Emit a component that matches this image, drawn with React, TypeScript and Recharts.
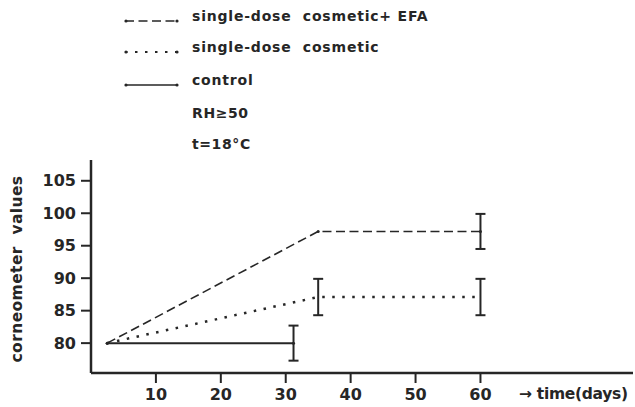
import { LineChart, Line, XAxis, YAxis, ErrorBar, Legend } from 'recharts';

// days after start, corneometer readings, +/- error (null = no bar drawn)
const efaDays = [2.5, 35, 60];
const efaValues = [80, 97.2, 97.2];
const efaErrors = [null, null, 2.7];

const cosmeticDays = [2.5, 35, 60];
const cosmeticValues = [80, 87.1, 87.1];
const cosmeticErrors = [null, 2.8, 2.8];

const controlDays = [2.5, 31.2];
const controlValues = [80, 80];
const controlErrors = [null, 2.7];

const seriesNames = ['single-dose  cosmetic+ EFA', 'single-dose  cosmetic', 'control'];
const conditions = ['RH\u226550', 't=18\u00B0C'];

const xTicks = [10, 20, 30, 40, 50, 60];
const yTicks = [80, 85, 90, 95, 100, 105];

const ink = '#262626';
const font = "'DejaVu Sans', sans-serif";

const toRows = (days: number[], values: number[], errors: (number | null)[]) =>
  days.map((d, i) => ({ day: d, value: values[i], err: errors[i] }));

const efaData = toRows(efaDays, efaValues, efaErrors);
const cosmeticData = toRows(cosmeticDays, cosmeticValues, cosmeticErrors);
const controlData = toRows(controlDays, controlValues, controlErrors);

const dashes = ['9 4.5', '2.5 7.5', undefined];
const widths = [1.6, 2.5, 2];

function LegendBox() {
  const rowY = [21, 52, 85];
  return (
    <svg width={460} height={160} style={{ display: 'block' }}>
      {seriesNames.map((name, i) => (
        <g key={name}>
          <line x1={125} x2={178} y1={rowY[i]} y2={rowY[i]} stroke={ink} strokeWidth={widths[i] > 2 ? 2 : 1.6} strokeDasharray={dashes[i]} />
          <circle cx={126} cy={rowY[i]} r={1.6} fill={ink} />
          <circle cx={177} cy={rowY[i]} r={1.6} fill={ink} />
          <text x={192} y={rowY[i]} fontFamily={font} fontSize={14} fontWeight="bold" letterSpacing={0.8} fill={ink} style={{ whiteSpace: 'pre' }}>
            {name}
          </text>
        </g>
      ))}
      {conditions.map((c, i) => (
        <text key={c} x={192} y={118 + i * 31} fontFamily={font} fontSize={14} fontWeight="bold" letterSpacing={0.6} fill={ink}>
          {c}
        </text>
      ))}
    </svg>
  );
}

export default function App() {
  return (
    <div style={{ width: 635, height: 407, background: '#fff' }}>
      <style>{'body{margin:0}'}</style>
      <LineChart width={635} height={407} margin={{ top: 160, right: 2, bottom: 4, left: 31 }}>
        <XAxis
          dataKey="day"
          type="number"
          domain={[0, 83.5]}
          allowDataOverflow
          ticks={xTicks}
          height={30}
          tickSize={10}
          tickMargin={6}
          tick={{ fill: ink, fontSize: 16, fontFamily: font, fontWeight: 'bold' }}
          tickLine={{ stroke: ink, strokeWidth: 2 }}
          axisLine={{ stroke: ink, strokeWidth: 2.5 }}
          label={{
            content: () => (
              <text x={519} y={399} fontFamily={font} fontSize={15.5} fontWeight="bold" fill={ink} letterSpacing={-0.3}>
                {'\u2192 time(days)'}
              </text>
            ),
          }}
        />
        <YAxis
          type="number"
          domain={[75.4, 108.2]}
          allowDataOverflow
          ticks={yTicks}
          width={60}
          tickSize={10}
          tickMargin={5}
          tick={{ fill: ink, fontSize: 16, fontFamily: font, fontWeight: 'bold' }}
          tickLine={{ stroke: ink, strokeWidth: 2 }}
          axisLine={{ stroke: ink, strokeWidth: 2.5 }}
          label={{
            content: () => (
              <text
                x={17}
                y={269}
                transform="rotate(-90 17 269)"
                textAnchor="middle"
                dominantBaseline="central"
                fontFamily={font}
                fontSize={15.5}
                fontWeight="bold"
                letterSpacing={0.4}
                fill={ink}
                style={{ whiteSpace: 'pre' }}
              >
                {'corneometer  values'}
              </text>
            ),
          }}
        />
        <Legend
          layout="vertical"
          align="center"
          verticalAlign="middle"
          wrapperStyle={{ top: 0, left: 0, width: 460 }}
          content={() => <LegendBox />}
        />
        <Line
          data={efaData}
          dataKey="value"
          name={seriesNames[0]}
          stroke={ink}
          strokeWidth={widths[0]}
          strokeDasharray={dashes[0]}
          dot={{ r: 1.5, fill: ink, stroke: 'none' }}
          isAnimationActive={false}
        >
          <ErrorBar dataKey="err" direction="y" width={5} stroke={ink} strokeWidth={2} />
        </Line>
        <Line
          data={cosmeticData}
          dataKey="value"
          name={seriesNames[1]}
          stroke={ink}
          strokeWidth={widths[1]}
          strokeDasharray={dashes[1]}
          dot={false}
          isAnimationActive={false}
        >
          <ErrorBar dataKey="err" direction="y" width={5} stroke={ink} strokeWidth={2} />
        </Line>
        <Line
          data={controlData}
          dataKey="value"
          name={seriesNames[2]}
          stroke={ink}
          strokeWidth={widths[2]}
          dot={{ r: 1.5, fill: ink, stroke: 'none' }}
          isAnimationActive={false}
        >
          <ErrorBar dataKey="err" direction="y" width={5} stroke={ink} strokeWidth={2} />
        </Line>
      </LineChart>
    </div>
  );
}
